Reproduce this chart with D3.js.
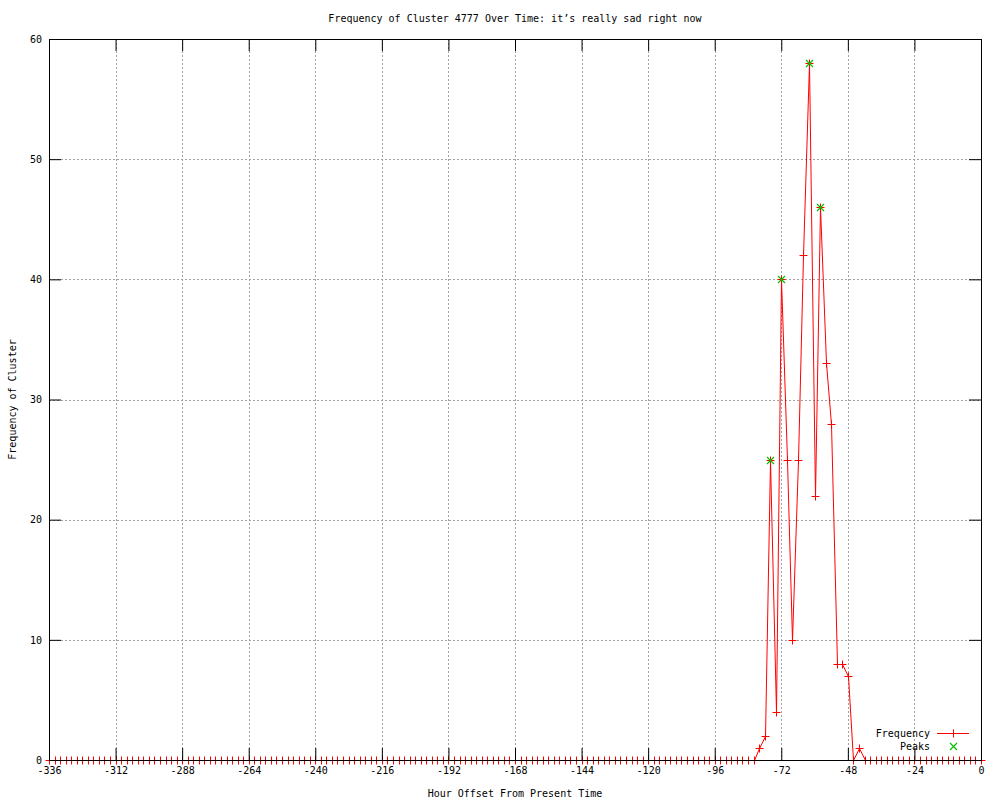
<!DOCTYPE html>
<html>
<head>
<meta charset="utf-8">
<script src="https://cdn.jsdelivr.net/npm/d3@7"></script>
<style>
  body { margin: 0; background: #fff; }
  text { font-family: 'DejaVu Sans Mono', monospace; font-size: 10px; fill: #000; }
</style>
</head>
<body>
<div id="graf"></div>
<script>
// Frequency of a cluster, hourly offset (every 2 hours), gnuplot look

// datos
horas = [
  -336, -334, -332, -330, -328, -326, -324, -322, -320, -318, -316, -314,
  -312, -310, -308, -306, -304, -302, -300, -298, -296, -294, -292, -290,
  -288, -286, -284, -282, -280, -278, -276, -274, -272, -270, -268, -266,
  -264, -262, -260, -258, -256, -254, -252, -250, -248, -246, -244, -242,
  -240, -238, -236, -234, -232, -230, -228, -226, -224, -222, -220, -218,
  -216, -214, -212, -210, -208, -206, -204, -202, -200, -198, -196, -194,
  -192, -190, -188, -186, -184, -182, -180, -178, -176, -174, -172, -170,
  -168, -166, -164, -162, -160, -158, -156, -154, -152, -150, -148, -146,
  -144, -142, -140, -138, -136, -134, -132, -130, -128, -126, -124, -122,
  -120, -118, -116, -114, -112, -110, -108, -106, -104, -102, -100, -98,
  -96, -94, -92, -90, -88, -86, -84, -82, -80, -78, -76, -74,
  -72, -70, -68, -66, -64, -62, -60, -58, -56, -54, -52, -50,
  -48, -46, -44, -42, -40, -38, -36, -34, -32, -30, -28, -26,
  -24, -22, -20, -18, -16, -14, -12, -10, -8, -6, -4, -2,
  0
]
frecuencia = [
  0, 0, 0, 0, 0, 0, 0, 0, 0, 0, 0, 0,
  0, 0, 0, 0, 0, 0, 0, 0, 0, 0, 0, 0,
  0, 0, 0, 0, 0, 0, 0, 0, 0, 0, 0, 0,
  0, 0, 0, 0, 0, 0, 0, 0, 0, 0, 0, 0,
  0, 0, 0, 0, 0, 0, 0, 0, 0, 0, 0, 0,
  0, 0, 0, 0, 0, 0, 0, 0, 0, 0, 0, 0,
  0, 0, 0, 0, 0, 0, 0, 0, 0, 0, 0, 0,
  0, 0, 0, 0, 0, 0, 0, 0, 0, 0, 0, 0,
  0, 0, 0, 0, 0, 0, 0, 0, 0, 0, 0, 0,
  0, 0, 0, 0, 0, 0, 0, 0, 0, 0, 0, 0,
  0, 0, 0, 0, 0, 0, 0, 0, 1, 2, 25, 4,
  40, 25, 10, 25, 42, 58, 22, 46, 33, 28, 8, 8,
  7, 0, 1, 0, 0, 0, 0, 0, 0, 0, 0, 0,
  0, 0, 0, 0, 0, 0, 0, 0, 0, 0, 0, 0,
  0
]
picosHoras = [-76, -72, -62, -58]
picosValor = [25, 40, 58, 46]

xTicks = [-336, -312, -288, -264, -240, -216, -192, -168, -144, -120, -96, -72, -48, -24, 0]
yTicks = [0, 10, 20, 30, 40, 50, 60]

titulo = 'Frequency of Cluster 4777 Over Time: it\u2019s really sad right now'
tituloX = 'Hour Offset From Present Time'
tituloY = 'Frequency of Cluster'

// configuración
ancho_total = 1000
alto_total = 800
area = { left: 49, right: 981, top: 39, bottom: 760 }

svg = d3.select('#graf').append('svg')
  .attr('width', ancho_total)
  .attr('height', alto_total)

x = d3.scaleLinear().domain([-336, 0]).range([area.left, area.right])
y = d3.scaleLinear().domain([0, 60]).range([area.bottom, area.top])

ancho = area.right - area.left
alto = area.bottom - area.top

// posiciones ajustadas al pixel para que los símbolos salgan nítidos
px = v => Math.round(v) + 0.5

// rejilla punteada
grid = svg.append('g').attr('shape-rendering', 'crispEdges')
grid.selectAll('.gx')
  .data(xTicks.slice(1, -1))
  .join('line')
  .attr('x1', d => px(x(d)))
  .attr('x2', d => px(x(d)))
  .attr('y1', area.top)
  .attr('y2', area.bottom)
  .attr('stroke', '#a0a0a0')
  .attr('stroke-dasharray', '2,2')
grid.selectAll('.gy')
  .data(yTicks.slice(1, -1))
  .join('line')
  .attr('y1', d => px(y(d)))
  .attr('y2', d => px(y(d)))
  .attr('x1', area.left)
  .attr('x2', area.right)
  .attr('stroke', '#a0a0a0')
  .attr('stroke-dasharray', '2,2')

// textos
svg.append('text')
  .attr('x', (area.left + area.right) / 2)
  .attr('y', 22)
  .attr('text-anchor', 'middle')
  .text(titulo)
svg.append('text')
  .attr('x', (area.left + area.right) / 2)
  .attr('y', 797)
  .attr('text-anchor', 'middle')
  .text(tituloX)
svg.append('text')
  .attr('transform', `translate(16,${(area.top + area.bottom) / 2}) rotate(-90)`)
  .attr('text-anchor', 'middle')
  .text(tituloY)

// serie de frecuencia
datos = horas.map((h, i) => ({ h: h, v: frecuencia[i] }))
picos = picosHoras.map((h, i) => ({ h: h, v: picosValor[i] }))

linea = d3.line().x(d => px(x(d.h))).y(d => px(y(d.v)))

svg.append('path')
  .datum(datos)
  .attr('d', linea)
  .attr('fill', 'none')
  .attr('stroke', '#ff0000')
  .attr('stroke-width', 1)

mas = 'M-4,0H4M0,-4V4'
cruz = 'M-3.5,-3.5L3.5,3.5M-3.5,3.5L3.5,-3.5'

svg.append('g').selectAll('path')
  .data(datos)
  .join('path')
  .attr('transform', d => `translate(${px(x(d.h))},${px(y(d.v))})`)
  .attr('d', mas)
  .attr('stroke', '#ff0000')
  .attr('fill', 'none')

svg.append('g').selectAll('path')
  .data(picos)
  .join('path')
  .attr('transform', d => `translate(${px(x(d.h))},${px(y(d.v))})`)
  .attr('d', cruz)
  .attr('stroke', '#00c000')
  .attr('stroke-width', 1.2)
  .attr('fill', 'none')

// ejes con marcas hacia dentro (encima de los datos, como gnuplot)
function limpia(sel) {
  sel.select('.domain').remove()
  sel.selectAll('line').attr('stroke', '#000')
  sel.selectAll('text').attr('font-family', null).attr('font-size', null)
}

svg.append('g')
  .attr('transform', `translate(0,${area.bottom})`)
  .call(d3.axisBottom(x).tickValues(xTicks).tickSizeInner(-12).tickSizeOuter(0)
    .tickPadding(7).tickFormat(d => String(d)))
  .call(limpia)
svg.append('g')
  .attr('transform', `translate(0,${area.top})`)
  .call(d3.axisTop(x).tickValues(xTicks).tickSizeInner(-12).tickSizeOuter(0).tickFormat(''))
  .call(limpia)
svg.append('g')
  .attr('transform', `translate(${area.left},0)`)
  .call(d3.axisLeft(y).tickValues(yTicks).tickSizeInner(-12).tickSizeOuter(0)
    .tickPadding(7).tickFormat(d => String(d)))
  .call(limpia)
svg.append('g')
  .attr('transform', `translate(${area.right},0)`)
  .call(d3.axisRight(y).tickValues(yTicks).tickSizeInner(-12).tickSizeOuter(0).tickFormat(''))
  .call(limpia)

svg.append('rect')
  .attr('x', area.left + 0.5)
  .attr('y', area.top + 0.5)
  .attr('width', ancho)
  .attr('height', alto)
  .attr('fill', 'none')
  .attr('stroke', '#000')
  .attr('shape-rendering', 'crispEdges')

// leyenda
ley = svg.append('g')
ley.append('text').attr('x', 930).attr('y', 737).attr('text-anchor', 'end').text('Frequency')
ley.append('line').attr('x1', 937).attr('x2', 969).attr('y1', 733.5).attr('y2', 733.5)
  .attr('stroke', '#ff0000')
ley.append('path').attr('transform', 'translate(953.5,733.5)').attr('d', mas)
  .attr('stroke', '#ff0000').attr('fill', 'none')
ley.append('text').attr('x', 930).attr('y', 750).attr('text-anchor', 'end').text('Peaks')
ley.append('path').attr('transform', 'translate(953.5,746.5)').attr('d', cruz)
  .attr('stroke', '#00c000').attr('stroke-width', 1.2).attr('fill', 'none')
</script>
</body>
</html>
